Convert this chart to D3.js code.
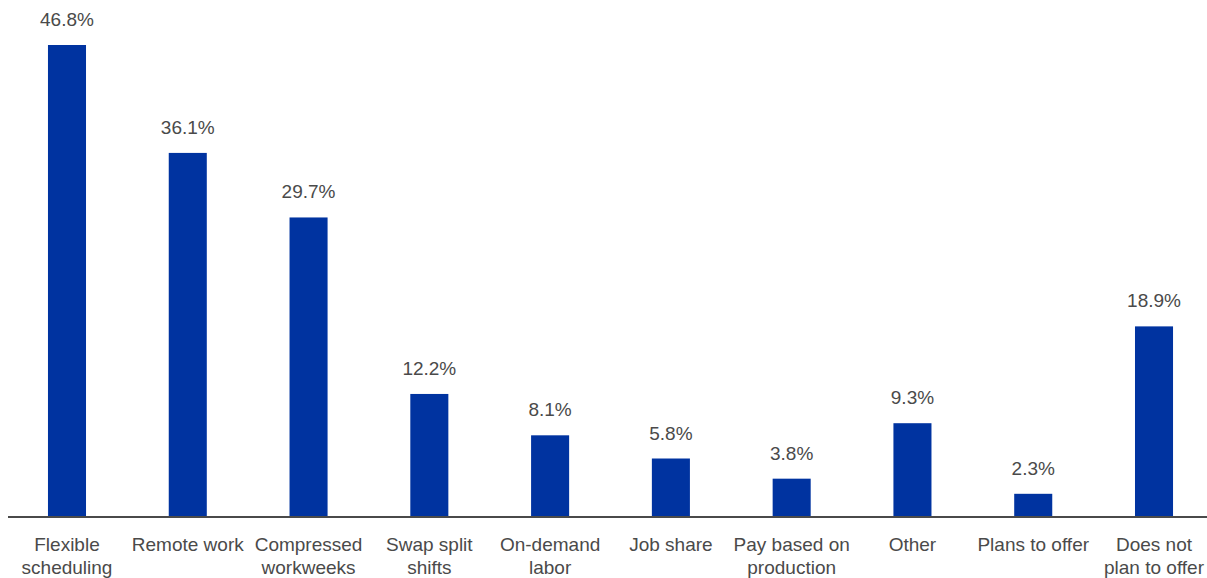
<!DOCTYPE html>
<html><head><meta charset="utf-8">
<script src="https://cdn.jsdelivr.net/npm/d3@7"></script>
<style>body{margin:0;background:#fff}svg{display:block}</style>
</head><body>
<script>
const categories = [["Flexible","scheduling"],["Remote work"],["Compressed","workweeks"],["Swap split","shifts"],["On-demand","labor"],["Job share"],["Pay based on","production"],["Other"],["Plans to offer"],["Does not","plan to offer"]];
const values = [46.8, 36.1, 29.7, 12.2, 8.1, 5.8, 3.8, 9.3, 2.3, 18.9];
const valueLabels = ["46.8%","36.1%","29.7%","12.2%","8.1%","5.8%","3.8%","9.3%","2.3%","18.9%"];

const W = 1207, H = 578;
const svg = d3.select("body").append("svg").attr("width", W).attr("height", H);
const ids = categories.map((c,i)=>i);
const x = d3.scaleBand().domain(ids).range([6.6, 1214.4]).paddingInner(0.685).paddingOuter(0.3425);
const y = d3.scaleLinear().domain([0, 46.8]).range([517, 45]);
const font = "'Liberation Sans', Arial, Helvetica, sans-serif";

svg.append("g").selectAll("rect").data(values).join("rect")
  .attr("x", (d,i)=>x(i)).attr("width", x.bandwidth())
  .attr("y", d=>y(d)).attr("height", d=>y(0)-y(d))
  .attr("fill", "#0033a0");

svg.append("line").attr("x1", 8).attr("x2", W).attr("y1", y(0)).attr("y2", y(0))
  .attr("stroke", "#4a4a4a").attr("stroke-width", 2);

svg.append("g").selectAll("text").data(values).join("text")
  .attr("x", (d,i)=>x(i)+x.bandwidth()/2).attr("y", d=>y(d)-19)
  .attr("text-anchor","middle").attr("font-family", font).attr("font-size", 19)
  .attr("fill","#4a4a4a").text((d,i)=>valueLabels[i]);

const cl = svg.append("g").selectAll("text").data(categories).join("text")
  .attr("x", (d,i)=>x(i)+x.bandwidth()/2).attr("y", 551)
  .attr("text-anchor","middle").attr("font-family", font).attr("font-size", 19)
  .attr("fill","#4a4a4a");
cl.selectAll("tspan").data(d=>d).join("tspan")
  .attr("x", function(){return d3.select(this.parentNode).attr("x");})
  .attr("dy", (d,j)=>j?22.5:0).text(d=>d);
</script>
</body></html>
